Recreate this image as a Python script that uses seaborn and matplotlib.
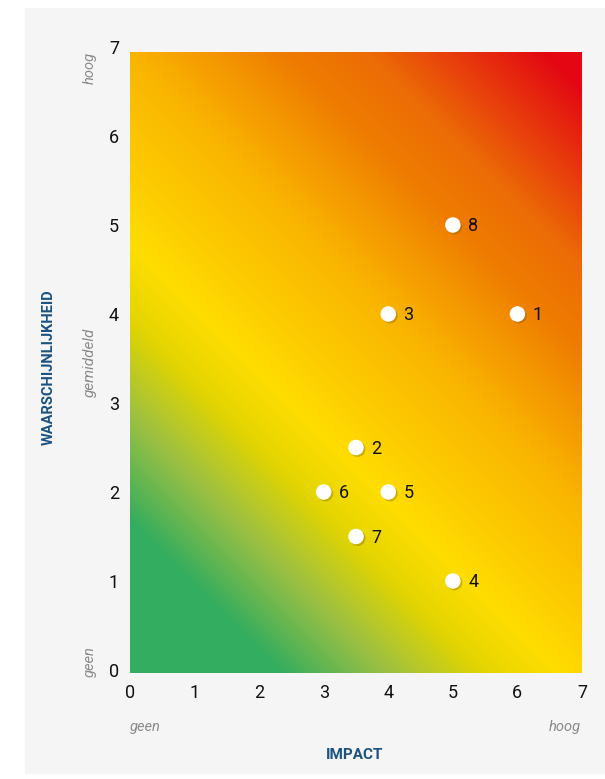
import numpy as np
import pandas as pd
import matplotlib.pyplot as plt
import matplotlib.patheffects as pe
from matplotlib.colors import LinearSegmentedColormap
from matplotlib.patches import Rectangle
import seaborn as sns

# risico's: impact (x) tegen waarschijnlijkheid (y)
risico = ['1', '2', '3', '4', '5', '6', '7', '8']
impact = [6, 3.5, 4, 5, 4, 3, 3.5, 5]
kans = [4, 2.5, 4, 1, 2, 2, 1.5, 5]
ticks = [0, 1, 2, 3, 4, 5, 6, 7]

df = pd.DataFrame({'risico': risico, 'impact': impact, 'kans': kans})

sns.set_theme(style='white')
plt.rcParams['font.family'] = ['Roboto', 'DejaVu Sans']

fig = plt.figure(figsize=(6.05, 7.79), dpi=100)
fig.patches.append(Rectangle((25/605, 6/779), 580/605, 765/779, transform=fig.transFigure,
                             color='#f5f5f5', zorder=-5))
# y-as: 0 op 670 px, 7 op 47 px; het gekleurde vlak loopt van 673 tot 52 px
ax = fig.add_axes([130/605, 109/779, 452/605, 623/779])
ax.set_zorder(2)
ax.patch.set_visible(False)

y0, y1 = -3/89, 618/89

# achtergrond verloop (groen -> geel -> oranje -> rood)
cmap = LinearSegmentedColormap.from_list('risk', [
    (0.0, '#33ad5f'), (0.14, '#33ad5f'), (0.24, '#9cc042'), (0.33, '#e3d500'),
    (0.40, '#ffdd00'), (0.47, '#fdcc00'), (0.58, '#f9b400'), (0.72, '#ef7d00'),
    (0.80, '#ec6c06'), (0.97, '#e30613'), (1.0, '#e30613')])
rows, cols = np.mgrid[0:621, 0:452]
grad = (rows + cols) / (620 + 451)
ax.imshow(grad, cmap=cmap, origin='lower', extent=(0, 7, y0, y1), aspect='auto', zorder=0,
          clip_on=False)

sns.scatterplot(data=df, x='impact', y='kans', color='white', s=125, edgecolor='none',
                zorder=4, ax=ax, legend=False)
ax.collections[-1].set_path_effects([pe.SimplePatchShadow(offset=(1.2, -1.2), shadow_rgbFace='#7a5a00', alpha=0.35),
                                     pe.Normal()])
for _, r in df.iterrows():
    ax.annotate(r['risico'], (r['impact'], r['kans']), xytext=(11, -1), textcoords='offset points',
                va='center', ha='left', fontsize=13, color='#111111', zorder=5)

ax.set_xticks(ticks)
ax.set_yticks(ticks)
ax.set_xlim(0, 7)
ax.set_ylim(0, 7)
ax.tick_params(axis='both', length=0, labelsize=13, labelcolor='#111111')
ax.tick_params(axis='x', pad=10)
ax.tick_params(axis='y', pad=8)
for s in ax.spines.values():
    s.set_visible(False)
ax.set_xlabel('')
ax.set_ylabel('')

grijs = '#8a8a8a'
blauw = '#1b5282'
fig.text(130/605, 1 - 727/779, 'geen', fontsize=10.5, style='italic', color=grijs, ha='left', va='center')
fig.text(581/605, 1 - 727/779, 'hoog', fontsize=10.5, style='italic', color=grijs, ha='right', va='center')
fig.text(355/605, 1 - 755/779, 'IMPACT', fontsize=11, fontweight='bold', color=blauw, ha='center', va='center')
fig.text(90/605, 1 - 52/779, 'hoog', fontsize=10.5, style='italic', color=grijs, rotation=90, ha='center', va='top')
fig.text(90/605, 1 - 362/779, 'gemiddeld', fontsize=11, style='italic', color=grijs, rotation=90, ha='center', va='center')
fig.text(90/605, 1 - 677/779, 'geen', fontsize=10.5, style='italic', color=grijs, rotation=90, ha='center', va='bottom')
fig.text(49/605, 1 - 367/779, 'WAARSCHIJNLIJKHEID', fontsize=10.5, fontweight='bold', color=blauw,
         rotation=90, ha='center', va='center')

fig.savefig('out.png', dpi=100)
